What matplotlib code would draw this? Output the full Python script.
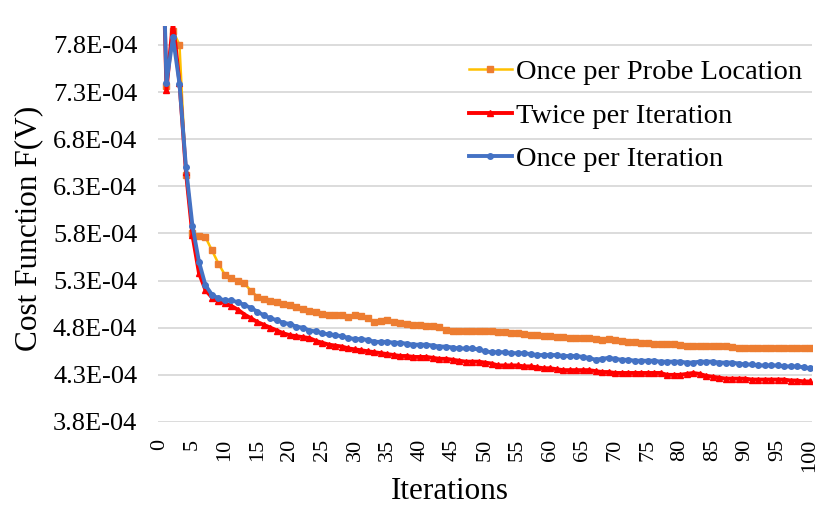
import numpy as np
import matplotlib
matplotlib.use("Agg")
import matplotlib.pyplot as plt
from matplotlib.ticker import FuncFormatter

# values, in units of 1E-04
iterations = list(range(101))

probe_location = [
    9.80, 7.36, 7.95, 7.80, 6.42, 5.80, 5.77, 5.76, 5.62, 5.48,
    5.36, 5.33, 5.30, 5.27, 5.19, 5.13, 5.10, 5.08, 5.07, 5.05,
    5.04, 5.02, 5.00, 4.98, 4.97, 4.95, 4.94, 4.93, 4.94, 4.91,
    4.94, 4.92, 4.90, 4.86, 4.87, 4.88, 4.86, 4.85, 4.84, 4.83,
    4.83, 4.82, 4.82, 4.81, 4.78, 4.77, 4.77, 4.77, 4.77, 4.76,
    4.76, 4.76, 4.75, 4.75, 4.74, 4.74, 4.73, 4.72, 4.72, 4.71,
    4.71, 4.70, 4.70, 4.69, 4.69, 4.69, 4.69, 4.68, 4.67, 4.68,
    4.67, 4.66, 4.65, 4.65, 4.64, 4.64, 4.63, 4.63, 4.63, 4.63,
    4.62, 4.61, 4.61, 4.61, 4.61, 4.61, 4.61, 4.61, 4.60, 4.59,
    4.59, 4.59, 4.59, 4.58, 4.59, 4.58, 4.58, 4.58, 4.58, 4.58,
    4.58,
]

twice_per_iter = [
    10.0, 7.32, 8.05, 7.40, 6.45, 5.78, 5.38, 5.20, 5.12, 5.08,
    5.06, 5.03, 4.99, 4.94, 4.90, 4.86, 4.83, 4.80, 4.77, 4.74,
    4.72, 4.71, 4.70, 4.69, 4.66, 4.64, 4.62, 4.61, 4.60, 4.58,
    4.57, 4.56, 4.55, 4.54, 4.53, 4.52, 4.51, 4.50, 4.50, 4.49,
    4.49, 4.49, 4.48, 4.47, 4.47, 4.46, 4.45, 4.44, 4.44, 4.44,
    4.43, 4.42, 4.40, 4.40, 4.40, 4.40, 4.39, 4.39, 4.38, 4.37,
    4.37, 4.36, 4.35, 4.35, 4.35, 4.35, 4.35, 4.34, 4.33, 4.33,
    4.32, 4.32, 4.32, 4.32, 4.32, 4.32, 4.32, 4.32, 4.30, 4.30,
    4.30, 4.31, 4.32, 4.31, 4.29, 4.28, 4.27, 4.26, 4.26, 4.26,
    4.26, 4.25, 4.25, 4.25, 4.25, 4.25, 4.25, 4.24, 4.24, 4.23,
    4.23,
]

once_per_iter = [
    10.0, 7.40, 7.88, 7.39, 6.50, 5.88, 5.50, 5.25, 5.15, 5.11,
    5.09, 5.09, 5.07, 5.04, 5.01, 4.97, 4.93, 4.90, 4.88, 4.85,
    4.84, 4.81, 4.80, 4.77, 4.76, 4.74, 4.73, 4.72, 4.71, 4.69,
    4.68, 4.68, 4.67, 4.65, 4.65, 4.65, 4.64, 4.64, 4.63, 4.62,
    4.62, 4.62, 4.61, 4.60, 4.60, 4.59, 4.58, 4.58, 4.58, 4.57,
    4.55, 4.54, 4.54, 4.54, 4.53, 4.53, 4.53, 4.52, 4.51, 4.51,
    4.51, 4.51, 4.50, 4.50, 4.50, 4.49, 4.48, 4.46, 4.47, 4.48,
    4.47, 4.46, 4.46, 4.45, 4.45, 4.45, 4.45, 4.44, 4.44, 4.44,
    4.44, 4.43, 4.43, 4.44, 4.44, 4.44, 4.43, 4.43, 4.43, 4.42,
    4.41, 4.41, 4.40, 4.40, 4.40, 4.40, 4.39, 4.39, 4.39, 4.38,
    4.37,
]

labels = ['Once per Probe Location', 'Twice per Iteration', 'Once per Iteration']
x_ticks = list(range(0, 101, 5))
y_ticks = [3.8, 4.3, 4.8, 5.3, 5.8, 6.3, 6.8, 7.3, 7.8]

plt.rcParams['font.family'] = ['Liberation Serif', 'DejaVu Serif']

fig = plt.figure(figsize=(8.29, 5.08), dpi=100)
ax = fig.add_axes([0.1906, 0.1693, 0.7889, 0.7795])

x = np.array(iterations)
ax.plot(x, np.array(probe_location) * 1e-4, color='#FFC000', lw=1.8,
        marker='s', markersize=4.4, markerfacecolor='#ED7D31',
        markeredgecolor='#ED7D31', label=labels[0], zorder=3)
ax.plot(x, np.array(twice_per_iter) * 1e-4, color='#FF0000', lw=2.8,
        marker='^', markersize=4.2, markerfacecolor='#FF0000',
        markeredgecolor='#FF0000', label=labels[1], zorder=4)
ax.plot(x, np.array(once_per_iter) * 1e-4, color='#4472C4', lw=2.8,
        marker='o', markersize=4, markerfacecolor='#4472C4',
        markeredgecolor='#4472C4', label=labels[2], zorder=5)

ax.set_xlim(-0.3, 100.3)
ax.set_ylim(3.8e-4, 8.0e-4)
ax.set_xticks(x_ticks)
ax.set_yticks([v * 1e-4 for v in y_ticks])
ax.yaxis.set_major_formatter(FuncFormatter(lambda v, p: f"{v:.1E}"))
ax.tick_params(axis='y', length=0, pad=15, labelsize=19)
ax.tick_params(axis='x', length=0, pad=12, labelsize=16, labelrotation=90)

ax.grid(True, axis='y', color='#D9D9D9', lw=1.3)
ax.set_axisbelow(True)
for s in ax.spines.values():
    s.set_visible(False)

ax.set_ylabel('Cost Function F(V)', fontsize=22.5)
ax.yaxis.set_label_coords(-0.175, 0.49)
ax.set_xlabel('Iterations', fontsize=22.5)
ax.xaxis.set_label_coords(0.447, -0.14)

leg = ax.legend(loc='upper left', bbox_to_anchor=(0.458, 0.945),
                fontsize=20.5, frameon=False, handlelength=1.5,
                handletextpad=0.15, labelspacing=0.62, borderaxespad=0)

plt.savefig('out.png', dpi=100)
plt.close()
